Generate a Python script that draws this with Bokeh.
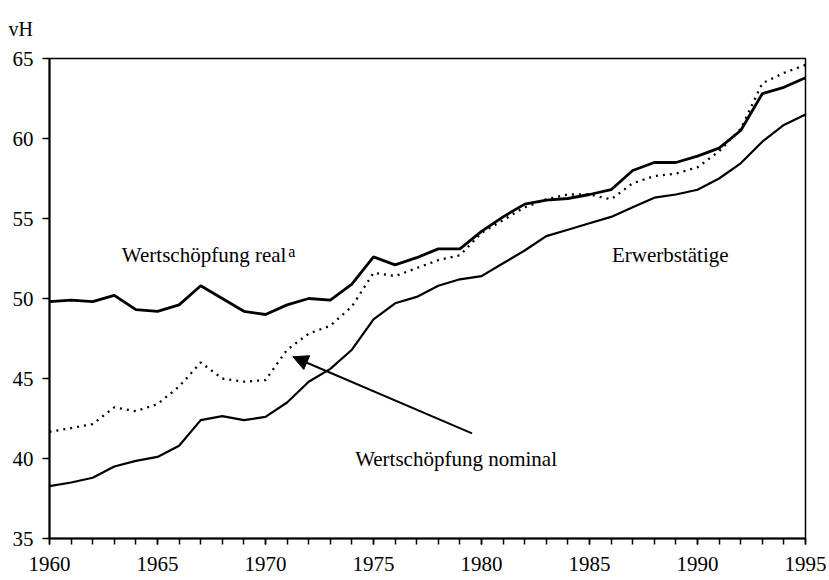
from bokeh.plotting import figure
from bokeh.models import Range1d, SingleIntervalTicker, Label, Arrow, NormalHead
from bokeh.embed import file_html
from bokeh.resources import INLINE

years = list(range(1960, 1996))
wertschoepfung_real = [49.8, 49.9, 49.8, 50.2, 49.3, 49.2, 49.6, 50.8, 50.0, 49.2,
                       49.0, 49.6, 50.0, 49.9, 50.9, 52.6, 52.1, 52.55, 53.1, 53.1,
                       54.2, 55.1, 55.9, 56.15, 56.25, 56.5, 56.8, 58.0, 58.5, 58.5,
                       58.9, 59.4, 60.5, 62.8, 63.2, 63.8]
wertschoepfung_nominal = [41.67, 41.9, 42.15, 43.2, 42.96, 43.4, 44.5, 46.0, 45.0, 44.8,
                          44.9, 46.8, 47.8, 48.3, 49.5, 51.6, 51.4, 51.9, 52.4, 52.7,
                          54.1, 54.9, 55.7, 56.2, 56.5, 56.5, 56.2, 57.2, 57.65, 57.8,
                          58.2, 59.2, 60.6, 63.45, 64.1, 64.6]
erwerbstaetige = [38.27, 38.5, 38.8, 39.5, 39.85, 40.1, 40.8, 42.4, 42.65, 42.4,
                  42.6, 43.5, 44.8, 45.6, 46.8, 48.7, 49.7, 50.1, 50.8, 51.2,
                  51.4, 52.2, 53.0, 53.9, 54.3, 54.7, 55.1, 55.7, 56.3, 56.5,
                  56.8, 57.5, 58.45, 59.8, 60.85, 61.5]

FONT = "Liberation Serif"

p = figure(width=829, height=580, output_backend="svg", toolbar_location=None,
           x_range=Range1d(1960, 1995), y_range=Range1d(35, 65),
           min_border_left=49, min_border_right=24, min_border_top=58, min_border_bottom=42)

p.title.text = "vH"
p.title.align = "left"
p.title.offset = -41
p.title.standoff = 33
p.title.vertical_align = "top"
p.title.text_font = FONT
p.title.text_font_size = "20px"
p.title.text_font_style = "normal"
p.title.text_color = "black"

p.xgrid.visible = False
p.ygrid.visible = False
p.outline_line_color = "black"
p.outline_line_width = 1.5
p.background_fill_color = "white"
p.border_fill_color = "white"

p.xaxis.ticker = SingleIntervalTicker(interval=5, num_minor_ticks=5)
p.yaxis.ticker = SingleIntervalTicker(interval=5, num_minor_ticks=0)
for ax in (p.xaxis, p.yaxis):
    ax.axis_line_width = 2
    ax.axis_line_color = "black"
    ax.major_tick_line_color = "black"
    ax.major_tick_line_width = 1.5
    ax.major_tick_in = 0
    ax.minor_tick_line_color = "black"
    ax.minor_tick_line_width = 1.5
    ax.minor_tick_in = 0
    ax.major_label_text_font = FONT
    ax.major_label_text_font_size = "21px"
    ax.major_label_text_color = "black"
p.xaxis.major_tick_out = 6
p.xaxis.minor_tick_out = 6
p.xaxis.major_label_standoff = 12
p.yaxis.major_tick_out = 7
p.yaxis.major_label_standoff = 9

p.line(years, wertschoepfung_real, line_color="black", line_width=2.8)
p.line(years, wertschoepfung_nominal, line_color="black", line_width=2.3, line_dash="2 5")
p.line(years, erwerbstaetige, line_color="black", line_width=2.2)

labels = [
    ("Wertschöpfung real", 1963.35, 52.72, "21px"),
    ("a", 1971.05, 52.95, "16px"),
    ("Erwerbstätige", 1986.04, 52.72, "21px"),
    ("Wertschöpfung nominal", 1974.15, 40.0, "21px"),
]
for txt, lx, ly, fs in labels:
    p.add_layout(Label(x=lx, y=ly, text=txt, text_font=FONT, text_font_size=fs,
                       text_color="black", text_baseline="alphabetic", text_align="left"))

p.add_layout(Arrow(end=NormalHead(size=15, fill_color="black", line_color="black"),
                   x_start=1979.56, y_start=41.57, x_end=1971.27, y_end=46.36,
                   line_color="black", line_width=2))

open("out.html", "w").write(file_html(p, INLINE))
